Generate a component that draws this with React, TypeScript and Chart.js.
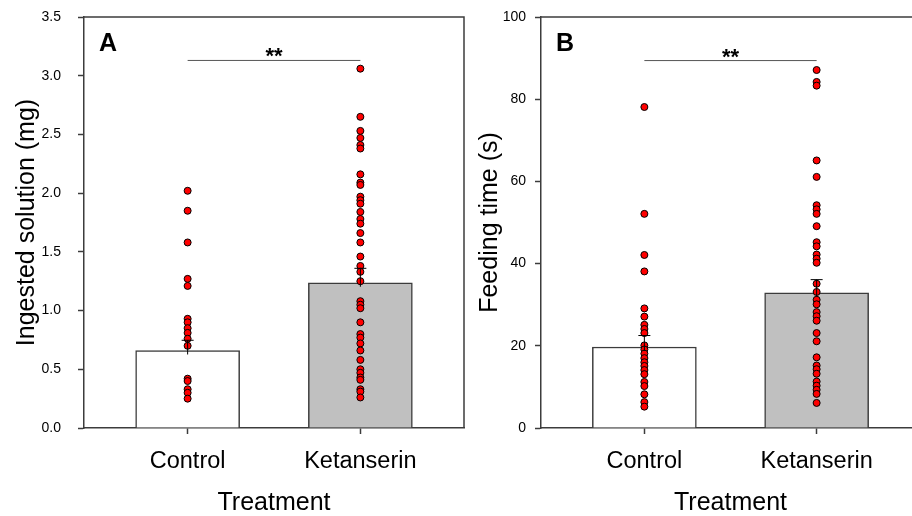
import React, { useEffect, useRef } from 'react';
import { Chart, registerables } from 'chart.js';

Chart.register(...registerables);

const categories = ['Control', 'Ketanserin'];

// Panel A – ingested solution (mg)
const ingestedControl = [2.02, 1.85, 1.58, 1.27, 1.21, 0.93, 0.9, 0.85, 0.81, 0.76, 0.7, 0.42, 0.4, 0.33, 0.3, 0.25];
const ingestedKetanserin = [
  3.06, 2.65, 2.53, 2.47, 2.41, 2.38, 2.16, 2.09, 2.07, 1.97, 1.94, 1.91, 1.84, 1.78, 1.74, 1.66, 1.58, 1.46,
  1.38, 1.33, 1.25, 1.08, 1.05, 1.02, 0.9, 0.8, 0.77, 0.72, 0.66, 0.58, 0.5, 0.47, 0.43, 0.41, 0.33, 0.31, 0.26,
];
const ingestedMeans = [0.66, 1.237];
const ingestedSE = [0.087, 0.123];
const ingestedSigLevel = 3.13;

// Panel B – feeding time (s)
const feedingControl = [78.1, 52.1, 42.1, 38.1, 29.1, 27.1, 25.1, 24.1, 23.1, 20.1, 19.1, 18.1, 17.0, 16.0, 15.1, 14.1, 13.1, 11.2, 10.2, 8.2, 6.3, 5.2];
const feedingKetanserin = [
  87.1, 84.2, 83.3, 65.1, 61.1, 54.2, 53.2, 52.1, 49.1, 45.2, 44.2, 42.2, 41.2, 40.2, 35.1, 33.1, 31.2, 30.1, 28.2,
  27.2, 26.1, 23.1, 21.1, 17.2, 15.2, 14.3, 13.2, 11.3, 10.3, 9.3, 8.3, 6.1,
];
const feedingMeans = [19.7, 32.9];
const feedingSE = [2.8, 3.2];
const feedingSigLevel = 89.4;

const FONT = "Arial, 'Liberation Sans', sans-serif";
const AXIS = '#3c3c3c';

type PanelSpec = {
  letter: string;
  yTitle: string;
  yMax: number;
  yStep: number;
  decimals: number;
  groups: number[][];
  means: number[];
  se: number[];
  sig: number;
  tickPad: number;
  titlePad: number;
  axisWidth: number;
};

function buildConfig(p: PanelSpec): any {
  const points = p.groups.flatMap((g, i) => g.map((v) => ({ x: i + 1, y: v })));
  const bars = p.means.map((m, i) => ({ x: i + 1, y: m }));

  const decor = {
    id: 'decor',
    afterDatasetsDraw(chart: any) {
      const { ctx, chartArea } = chart;
      const xs = chart.scales.x;
      const ys = chart.scales.y;
      ctx.save();
      // box top & right
      ctx.strokeStyle = AXIS;
      ctx.lineWidth = 1.5;
      ctx.beginPath();
      ctx.moveTo(chartArea.left, chartArea.top);
      ctx.lineTo(chartArea.right, chartArea.top);
      ctx.lineTo(chartArea.right, chartArea.bottom);
      ctx.stroke();
      // error bars
      ctx.strokeStyle = '#000';
      ctx.lineWidth = 1;
      p.means.forEach((m, i) => {
        const x = xs.getPixelForValue(i + 1);
        const y0 = ys.getPixelForValue(m);
        const y1 = ys.getPixelForValue(m + p.se[i]);
        ctx.beginPath();
        ctx.moveTo(x, y0 + 4);
        ctx.lineTo(x, y1);
        ctx.moveTo(x - 6, y1);
        ctx.lineTo(x + 6, y1);
        ctx.stroke();
      });
      // significance bracket
      const sy = ys.getPixelForValue(p.sig);
      const x1 = xs.getPixelForValue(1);
      const x2 = xs.getPixelForValue(2);
      ctx.strokeStyle = '#555';
      ctx.lineWidth = 1;
      ctx.beginPath();
      ctx.moveTo(x1, sy);
      ctx.lineTo(x2, sy);
      ctx.stroke();
      ctx.fillStyle = '#000';
      ctx.font = `bold 22px ${FONT}`;
      ctx.textAlign = 'center';
      ctx.textBaseline = 'alphabetic';
      ctx.fillText('**', (x1 + x2) / 2, sy + 3);
      // panel letter
      ctx.font = `bold 25px ${FONT}`;
      ctx.textAlign = 'left';
      ctx.fillText(p.letter, chartArea.left + 15, chartArea.top + 34);
      ctx.restore();
    },
  };

  return {
    type: 'bar',
    data: {
      datasets: [
        {
          type: 'scatter',
          data: points,
          backgroundColor: '#ff0000',
          borderColor: '#000000',
          borderWidth: 1,
          pointRadius: 3.5,
          order: 1,
        },
        {
          type: 'bar',
          data: bars,
          backgroundColor: ['#ffffff', '#c0c0c0'],
          borderColor: AXIS,
          borderWidth: 1.5,
          barThickness: 104,
          order: 2,
        },
      ],
    },
    options: {
      responsive: false,
      animation: false,
      events: [],
      layout: { padding: { top: 17, right: 6, left: 0, bottom: 0 } },
      plugins: { legend: { display: false }, tooltip: { enabled: false } },
      scales: {
        x: {
          type: 'linear',
          min: 0.4,
          max: 2.6,
          offset: false,
          afterBuildTicks: (s: any) => {
            s.ticks = categories.map((_, i) => ({ value: i + 1 }));
          },
          afterFit: (s: any) => {
            s.height = 88;
            s.paddingLeft = 0;
            s.paddingRight = 0;
          },
          ticks: {
            autoSkip: false,
            padding: 13,
            color: '#000',
            font: { family: FONT, size: 23.5 },
            callback: (v: number) => categories[Math.round(v) - 1] ?? '',
          },
          grid: { offset: false, drawOnChartArea: false, drawTicks: true, tickLength: 6, color: AXIS, tickWidth: 1.5 },
          border: { display: true, color: AXIS, width: 1.5 },
          title: {
            display: true,
            text: 'Treatment',
            color: '#000',
            font: { family: FONT, size: 25, lineHeight: 1 },
            padding: { top: 0, bottom: 0 },
          },
        },
        y: {
          type: 'linear',
          min: 0,
          max: p.yMax,
          afterFit: (s: any) => {
            s.width = p.axisWidth;
            s.paddingTop = 8;
            s.paddingBottom = 8;
          },
          ticks: {
            stepSize: p.yStep,
            padding: p.tickPad,
            color: '#000',
            font: { family: FONT, size: 14 },
            callback: (v: number) => v.toFixed(p.decimals),
          },
          grid: { drawOnChartArea: false, drawTicks: true, tickLength: 6, color: AXIS, tickWidth: 1.5 },
          border: { display: true, color: AXIS, width: 1.5 },
          title: {
            display: true,
            text: p.yTitle,
            color: '#000',
            font: { family: FONT, size: 25, lineHeight: 1 },
            padding: { top: p.titlePad, bottom: 0 },
          },
        },
      },
    },
    plugins: [decor],
  };
}

const panelA: PanelSpec = {
  letter: 'A',
  yTitle: 'Ingested solution (mg)',
  yMax: 3.5,
  yStep: 0.5,
  decimals: 1,
  groups: [ingestedControl, ingestedKetanserin],
  means: ingestedMeans,
  se: ingestedSE,
  sig: ingestedSigLevel,
  tickPad: 17,
  titlePad: 15,
  axisWidth: 84,
};

const panelB: PanelSpec = {
  letter: 'B',
  yTitle: 'Feeding time (s)',
  yMax: 100,
  yStep: 20,
  decimals: 0,
  groups: [feedingControl, feedingKetanserin],
  means: feedingMeans,
  se: feedingSE,
  sig: feedingSigLevel,
  tickPad: 9,
  titlePad: 22,
  axisWidth: 85,
};

function Panel({ spec, left }: { spec: PanelSpec; left: number }) {
  const ref = useRef<HTMLCanvasElement>(null);
  useEffect(() => {
    if (!ref.current) return;
    const chart = new Chart(ref.current, buildConfig(spec));
    return () => chart.destroy();
  }, [spec]);
  return (
    <canvas
      ref={ref}
      width={470}
      height={516}
      style={{ position: 'absolute', left, top: 0, width: 470, height: 516 }}
    />
  );
}

export default function App() {
  useEffect(() => {
    document.body.style.margin = '0';
  }, []);
  return (
    <div
      style={{
        position: 'fixed',
        left: 0,
        top: 0,
        width: 912,
        height: 516,
        overflow: 'hidden',
        background: '#ffffff',
      }}
    >
      <Panel spec={panelA} left={0} />
      <Panel spec={panelB} left={456} />
    </div>
  );
}
